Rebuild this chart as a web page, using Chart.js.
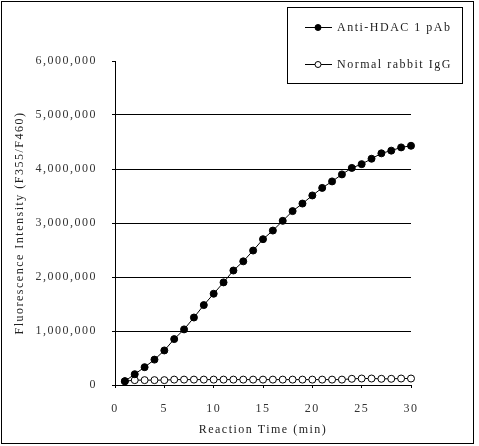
<!DOCTYPE html>
<html lang="en">
<head>
    <meta charset="UTF-8">
    <title>HDAC activity</title>
    <script src="https://cdn.jsdelivr.net/npm/chart.js@4.4.1/dist/chart.umd.min.js"></script>
    <style>
        body { margin: 0; background: #fff; }
        #wrap { width: 479px; height: 446px; }
    </style>
</head>
<body>
<div id="wrap"><canvas id="chart" width="479" height="446"></canvas></div>
<script>
    // reaction time, minutes
    const minutes = [1, 2, 3, 4, 5, 6, 7, 8, 9, 10, 11, 12, 13, 14, 15,
        16, 17, 18, 19, 20, 21, 22, 23, 24, 25, 26, 27, 28, 29, 30]

    const antiHdac = [70000, 200000, 330000, 470000, 640000, 850000, 1030000, 1250000, 1480000, 1690000,
        1900000, 2120000, 2290000, 2490000, 2700000, 2860000, 3040000, 3220000, 3360000, 3510000,
        3650000, 3770000, 3900000, 4020000, 4090000, 4190000, 4290000, 4340000, 4400000, 4430000]

    const normalIgG = [70000, 90000, 90000, 90000, 90000, 100000, 100000, 100000, 100000, 100000,
        100000, 100000, 100000, 100000, 100000, 100000, 100000, 100000, 100000, 100000,
        100000, 100000, 100000, 115000, 120000, 120000, 115000, 115000, 120000, 120000]

    const seriesLabels = ['Anti-HDAC 1 pAb', 'Normal rabbit IgG']
    const yTickValues = [0, 1000000, 2000000, 3000000, 4000000, 5000000, 6000000]
    const xTickValues = [0, 5, 10, 15, 20, 25, 30]

    const FONT = 'Liberation Serif'
    const SPACING = '1.5px'

    // canvas has no letter-spacing option in chart.js, so set it on the context
    const spacingPlugin = {
        id: 'spacing',
        beforeLayout(chart) { chart.ctx.letterSpacing = SPACING },
        beforeDraw(chart) { chart.ctx.letterSpacing = SPACING }
    }

    const legendBox = {
        id: 'legendBox',
        afterDraw(chart) {
            const ctx = chart.ctx
            ctx.save()
            ctx.letterSpacing = SPACING
            ctx.strokeStyle = '#000'
            ctx.lineWidth = 1
            ctx.strokeRect(287.5, 7.5, 175, 76)
            ctx.font = `12px ${FONT}`
            ctx.textBaseline = 'middle'
            chart.data.datasets.forEach((ds, i) => {
                const y = 27.5 + i * 37
                ctx.beginPath()
                ctx.moveTo(305, y)
                ctx.lineTo(332, y)
                ctx.stroke()
                ctx.beginPath()
                ctx.arc(318, y, 3, 0, Math.PI * 2)
                ctx.fillStyle = ds.pointBackgroundColor
                ctx.fill()
                ctx.stroke()
                ctx.fillStyle = '#222'
                ctx.fillText(ds.label, 337, y)
            })
            // outer frame round the whole figure
            ctx.strokeRect(1.5, 1.5, 472, 442)
            ctx.restore()
        }
    }

    const toPoints = arr => minutes.map((m, i) => ({x: m, y: arr[i]}))

    new Chart(document.getElementById('chart'), {
        type: 'line',
        data: {
            datasets: [
                {
                    label: seriesLabels[0],
                    data: toPoints(antiHdac),
                    borderColor: '#000',
                    borderWidth: 1,
                    pointBackgroundColor: '#000',
                    pointBorderColor: '#000',
                    pointBorderWidth: 1,
                    pointRadius: 3.5,
                    tension: 0,
                    clip: false
                },
                {
                    label: seriesLabels[1],
                    data: toPoints(normalIgG),
                    borderColor: '#000',
                    borderWidth: 1,
                    pointBackgroundColor: '#fff',
                    pointBorderColor: '#000',
                    pointBorderWidth: 1,
                    pointRadius: 3.5,
                    tension: 0,
                    clip: false
                }
            ]
        },
        options: {
            responsive: false,
            animation: false,
            layout: {padding: {top: 61, right: 68, bottom: 0, left: 0}},
            plugins: {legend: {display: false}, tooltip: {enabled: false}},
            scales: {
                x: {
                    type: 'linear',
                    min: 0,
                    max: 30,
                    afterBuildTicks: s => { s.ticks = xTickValues.map(v => ({value: v})) },
                    afterFit: s => { s.height = 61 },
                    border: {color: '#000', width: 1},
                    grid: {drawOnChartArea: false, tickLength: 3, color: '#000'},
                    ticks: {color: '#333', font: {family: FONT, size: 12}, padding: 14, maxRotation: 0},
                    title: {
                        display: true,
                        text: 'Reaction Time (min)',
                        color: '#222',
                        font: {family: FONT, size: 12},
                        padding: {top: 0, bottom: 9}
                    }
                },
                y: {
                    min: 0,
                    max: 6000000,
                    afterBuildTicks: s => { s.ticks = yTickValues.map(v => ({value: v})) },
                    afterFit: s => { s.width = 115 },
                    border: {color: '#000', width: 1},
                    grid: {
                        color: c => (c.tick && c.tick.value > 0 && c.tick.value < 6000000) ? '#000' : 'rgba(0,0,0,0)',
                        tickColor: '#000',
                        tickLength: 3
                    },
                    ticks: {
                        color: '#333',
                        font: {family: FONT, size: 12},
                        padding: 15,
                        callback: v => v.toLocaleString('en-US')
                    },
                    title: {
                        display: true,
                        text: 'Fluorescence Intensity (F355/F460)',
                        color: '#222',
                        font: {family: FONT, size: 12},
                        padding: {top: 13, bottom: 0}
                    }
                }
            }
        },
        plugins: [spacingPlugin, legendBox]
    })
</script>
</body>
</html>
